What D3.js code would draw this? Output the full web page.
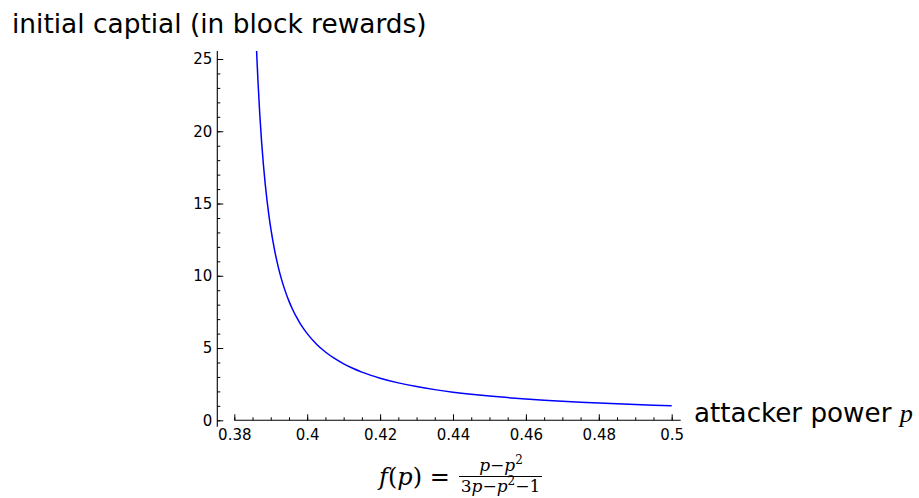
<!DOCTYPE html>
<html>
<head>
<meta charset="utf-8">
<script src="https://cdn.jsdelivr.net/npm/d3@7"></script>
<style>
  html, body { margin: 0; padding: 0; background: #fff; }
  svg { display: block; }
</style>
</head>
<body>
<svg id="chart" width="919" height="498"></svg>
<script>
// ---- data ----
const pValues = [0.3861, 0.3862, 0.3863, 0.3865, 0.387, 0.3875, 0.388, 0.3885, 0.389, 0.3895,
                 0.390, 0.391, 0.392, 0.393, 0.394, 0.395, 0.396, 0.397, 0.398, 0.399,
                 0.400, 0.4025, 0.405, 0.4075, 0.41, 0.4125, 0.415, 0.4175, 0.42, 0.425,
                 0.43, 0.435, 0.44, 0.445, 0.45, 0.455, 0.46, 0.465, 0.47, 0.475,
                 0.48, 0.485, 0.49, 0.495, 0.50];
const fValues = [25.69, 25.08, 24.51, 23.44, 21.12, 19.23, 17.65, 16.31, 15.16, 14.16,
                 13.29, 11.84, 10.67, 9.717, 8.921, 8.248, 7.670, 7.169, 6.731, 6.344,
                 6.000, 5.286, 4.727, 4.278, 3.908, 3.599, 3.336, 3.110, 2.914, 2.589,
                 2.332, 2.123, 1.949, 1.803, 1.678, 1.570, 1.475, 1.392, 1.317, 1.251,
                 1.191, 1.137, 1.087, 1.042, 1.000];
const xTickLabels = ["0.38", "0.4", "0.42", "0.44", "0.46", "0.48", "0.5"];
const xTickValues = [0.38, 0.40, 0.42, 0.44, 0.46, 0.48, 0.50];
const yTickValues = [0, 5, 10, 15, 20, 25];
const yTickLabels = ["0", "5", "10", "15", "20", "25"];
const yAxisTitle = "initial captial (in block rewards)";
const xAxisTitle = "attacker power ";

const data = pValues.map((p, i) => ({p: p, f: fValues[i]}));

const svg = d3.select("#chart");
const x = d3.scaleLinear().domain([0.38, 0.5]).range([234.3, 671.7]);
const y = d3.scaleLinear().domain([0, 25]).range([420.3, 59]);

const xMinor = d3.range(0.38, 0.5001, 0.005).map(v => +v.toFixed(3));
const yMinor = d3.range(0, 25.5, 1);

// clip for the curve
svg.append("defs").append("clipPath").attr("id", "clip")
  .append("rect").attr("x", 0).attr("y", 51).attr("width", 919).attr("height", 420);

const tickFont = 15;
// minor ticks x
svg.append("g").attr("transform", `translate(0,${y(0)})`)
  .call(d3.axisBottom(x).tickValues(xMinor).tickSize(-3).tickFormat(""))
  .call(g => g.select(".domain").remove())
  .call(g => g.selectAll("line").attr("stroke", "#000"));
// major ticks x
svg.append("g").attr("transform", `translate(0,${y(0)})`)
  .call(d3.axisBottom(x).tickValues(xTickValues).tickSize(-6).tickPadding(9)
        .tickFormat((d, i) => xTickLabels[i]))
  .call(g => g.select(".domain").remove())
  .call(g => g.selectAll("line").attr("stroke", "#000"))
  .call(g => g.selectAll("text").attr("font-family", "DejaVu Sans").attr("font-size", tickFont).attr("fill", "#000"));

const yAxisX = 217.3;
// minor ticks y
svg.append("g").attr("transform", `translate(${yAxisX},0)`)
  .call(d3.axisLeft(y).tickValues(yMinor).tickSize(-3).tickFormat(""))
  .call(g => g.select(".domain").remove())
  .call(g => g.selectAll("line").attr("stroke", "#000"));
// major ticks y
svg.append("g").attr("transform", `translate(${yAxisX},0)`)
  .call(d3.axisLeft(y).tickValues(yTickValues).tickSize(-6).tickPadding(5)
        .tickFormat((d, i) => yTickLabels[i]))
  .call(g => g.select(".domain").remove())
  .call(g => g.selectAll("line").attr("stroke", "#000"))
  .call(g => g.selectAll("text").attr("font-family", "DejaVu Sans").attr("font-size", tickFont).attr("fill", "#000"));

// axis lines
svg.append("line").attr("x1", yAxisX).attr("x2", yAxisX)
  .attr("y1", 51).attr("y2", 426.7).attr("stroke", "#000").attr("stroke-width", 1.1);
svg.append("line").attr("x1", x(0.38)).attr("x2", 680.7)
  .attr("y1", y(0)).attr("y2", y(0)).attr("stroke", "#000").attr("stroke-width", 1.1);

// curve
const line = d3.line().x(d => x(d.p)).y(d => y(d.f)).curve(d3.curveMonotoneX);
svg.append("path").datum(data)
  .attr("d", line)
  .attr("fill", "none")
  .attr("stroke", "#0000ff")
  .attr("stroke-width", 1.5)
  .attr("clip-path", "url(#clip)");

// axis titles
svg.append("text").attr("x", 12).attr("y", 33)
  .attr("font-family", "DejaVu Sans").attr("font-size", 26.4).attr("fill", "#000")
  .text(yAxisTitle);
const xt = svg.append("text").attr("x", 694).attr("y", 422)
  .attr("font-family", "DejaVu Sans").attr("font-size", 26.2).attr("fill", "#000");
xt.append("tspan").text(xAxisTitle);
xt.append("tspan").attr("font-family", "Liberation Serif").attr("font-style", "italic").text("p");

// formula caption
const serif = "DejaVu Serif";
const cap = svg.append("text").attr("x", 379).attr("y", 485)
  .attr("font-family", serif).attr("font-size", 24).attr("fill", "#000");
cap.append("tspan").attr("font-style", "italic").text("f");
cap.append("tspan").text("(");
cap.append("tspan").attr("font-style", "italic").text("p");
cap.append("tspan").text(") =");

svg.append("line").attr("x1", 459).attr("x2", 542).attr("y1", 476.5).attr("y2", 476.5)
  .attr("stroke", "#000").attr("stroke-width", 1);
const num = svg.append("text").attr("x", 501).attr("y", 471).attr("text-anchor", "middle")
  .attr("font-family", serif).attr("font-size", 17).attr("fill", "#000");
num.append("tspan").attr("font-style", "italic").text("p");
num.append("tspan").text("−");
num.append("tspan").attr("font-style", "italic").text("p");
num.append("tspan").attr("font-size", 12).attr("dy", -7).text("2");
const den = svg.append("text").attr("x", 500.5).attr("y", 492).attr("text-anchor", "middle")
  .attr("font-family", serif).attr("font-size", 17).attr("fill", "#000");
den.append("tspan").text("3");
den.append("tspan").attr("font-style", "italic").text("p");
den.append("tspan").text("−");
den.append("tspan").attr("font-style", "italic").text("p");
den.append("tspan").attr("font-size", 12).attr("dy", -7).text("2");
den.append("tspan").attr("dy", 7).text("−1");
</script>
</body>
</html>
